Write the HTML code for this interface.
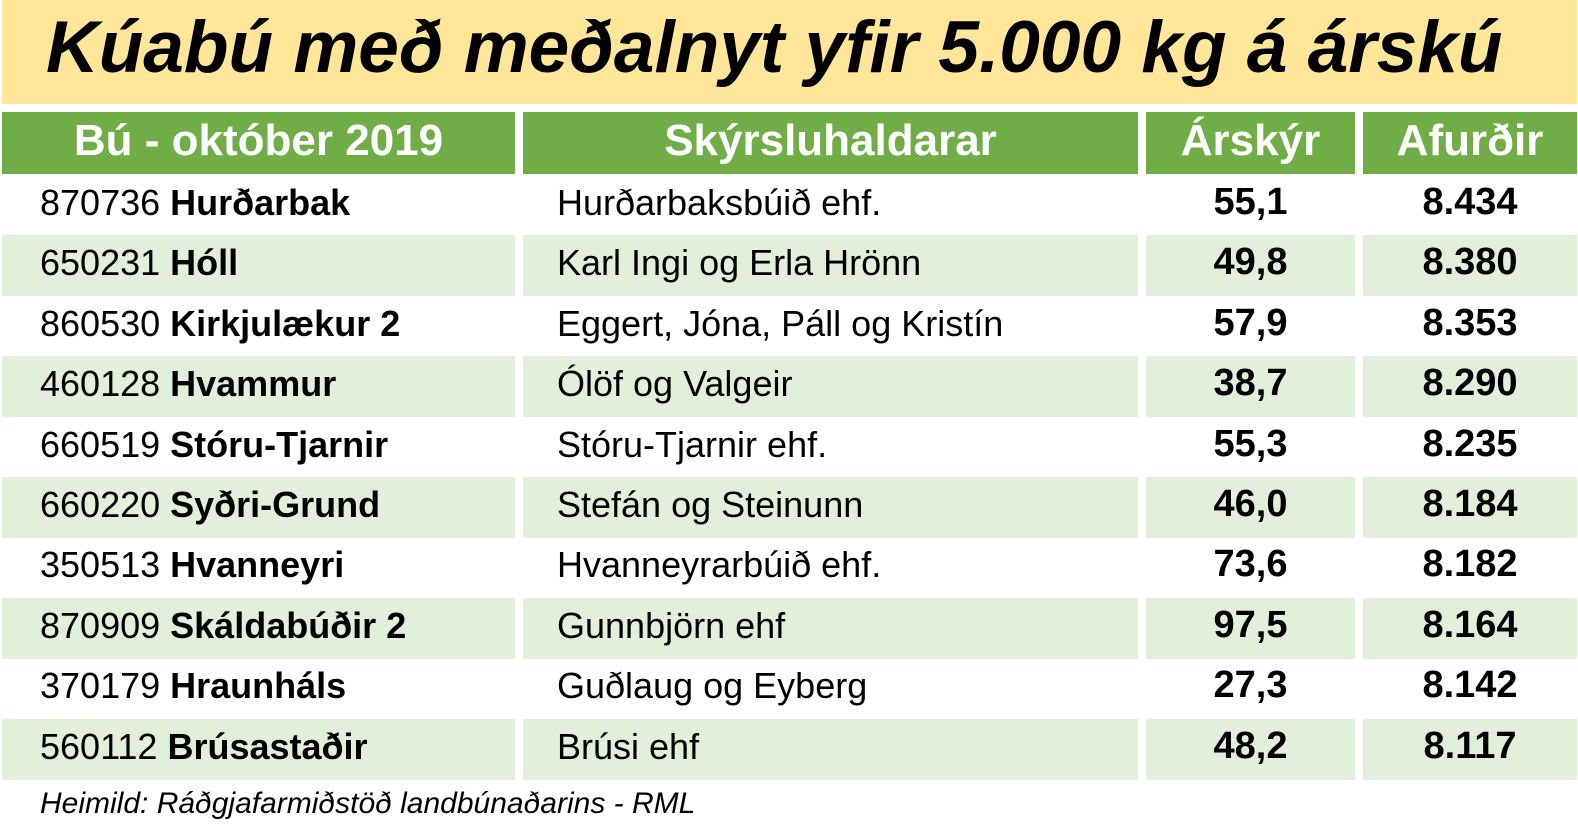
<!DOCTYPE html>
<html><head><meta charset="utf-8"><style>
body{margin:0;width:1578px;height:839px;background:#fff;position:relative;overflow:hidden;font-family:"Liberation Sans",sans-serif}
.t{position:absolute;left:2px;top:0;width:1575px;height:104px;background:#ffe699}
.t span{position:absolute;left:44px;top:6px;font-size:73px;font-weight:bold;font-style:italic;color:#000;white-space:nowrap}
.c{position:absolute;box-sizing:border-box;white-space:nowrap;display:flex;align-items:center;padding-bottom:6px}
.h{background:#70ad47;color:#fff;font-weight:bold;font-size:44px;justify-content:center}
.g{background:#e2efda}
.d{font-size:36px;color:#000}
.n{justify-content:center;font-weight:bold;font-size:38px}
.f{position:absolute;left:40px;top:787px;font-size:30px;font-style:italic;color:#000}
</style></head><body>
<div class="t"><span>Kúabú með meðalnyt yfir 5.000 kg á árskú</span></div>
<div id="tb"></div>
<div class="f">Heimild: Ráðgjafarmiðstöð landbúnaðarins - RML</div>
<script>
var cols=[[2,515],[523,1138],[1146,1355],[1363,1577]];
var hd=["Bú - október 2019","Skýrsluhaldarar","Árskýr","Afurðir"];
var rows=[["870736","Hurðarbak","Hurðarbaksbúið ehf.","55,1","8.434"],
["650231","Hóll","Karl Ingi og Erla Hrönn","49,8","8.380"],
["860530","Kirkjulækur 2","Eggert, Jóna, Páll og Kristín","57,9","8.353"],
["460128","Hvammur","Ólöf og Valgeir","38,7","8.290"],
["660519","Stóru-Tjarnir","Stóru-Tjarnir ehf.","55,3","8.235"],
["660220","Syðri-Grund","Stefán og Steinunn","46,0","8.184"],
["350513","Hvanneyri","Hvanneyrarbúið ehf.","73,6","8.182"],
["870909","Skáldabúðir 2","Gunnbjörn ehf","97,5","8.164"],
["370179","Hraunháls","Guðlaug og Eyberg","27,3","8.142"],
["560112","Brúsastaðir","Brúsi ehf","48,2","8.117"]];
var out="";
for(var j=0;j<4;j++)out+='<div class="c h" style="left:'+cols[j][0]+'px;width:'+(cols[j][1]-cols[j][0])+'px;top:112px;height:62px;padding-bottom:4px">'+hd[j]+'</div>';
for(var i=0;i<10;i++){var yy=Math.round(175+60.4*i),g=i%2?' g':'';var r=rows[i];
var cells=['<span style="padding-left:38px">'+r[0]+' <b>'+r[1]+'</b></span>','<span style="padding-left:34px">'+r[2]+'</span>',r[3],r[4]];
for(var j=0;j<4;j++)out+='<div class="c d'+g+(j>1?' n':'')+'" style="left:'+cols[j][0]+'px;width:'+(cols[j][1]-cols[j][0])+'px;top:'+yy+'px;height:61px">'+cells[j]+'</div>';}
document.getElementById('tb').innerHTML=out;
</script>
</body></html>
